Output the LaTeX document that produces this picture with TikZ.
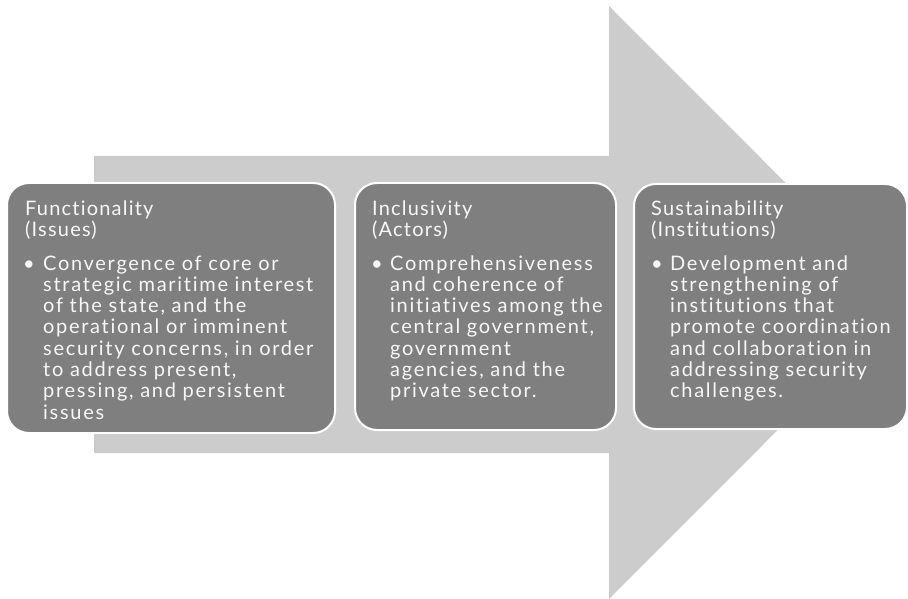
\documentclass[tikz,border=0pt]{standalone}
\usepackage{fontspec}
\setmainfont{Lato}[LetterSpace=6,WordSpace=1.3,Ligatures={NoCommon}]
\newfontfamily\bodyfont{Lato}[LetterSpace=8.5,WordSpace=1.35,Ligatures={NoCommon}]
\definecolor{shaftgray}{HTML}{CCCCCC}
\definecolor{boxgray}{HTML}{7F7F7F}
\definecolor{labelwhite}{HTML}{F7F7F7}
\begin{document}
\begin{tikzpicture}[x=1pt,y=-1pt,
  panel/.style={draw=white,line width=2pt,fill=boxgray,rounded corners=22pt},
  heading/.style={anchor=base west,inner sep=0pt,text=labelwhite,text width=260pt,align=left,
    font=\fontsize{20pt}{21.5pt}\selectfont},
  body/.style={anchor=base west,inner sep=0pt,text=labelwhite,text width=300pt,align=left,
    font=\bodyfont\fontsize{20pt}{21.3pt}\selectfont},
  dot/.style={anchor=base west,inner sep=0pt,text=labelwhite,font=\fontsize{20pt}{21.3pt}\selectfont}]
\useasboundingbox (0,0) rectangle (908,599);
% background arrow
\fill[shaftgray] (94,156) -- (609,156) -- (609,6) -- (905,302.5) -- (609,599) -- (609,453) -- (94,453) -- cycle;
% three panels
\draw[panel] (7,183) rectangle (335,433);
\draw[panel] (355,183) rectangle (616,430);
\draw[panel] (634,184) rectangle (907,429);
% panel 1
\node[heading] (h1) at (25,215) {Functionality\\(Issues)};
\node[dot] (d1) at (23,270) {\textbullet};
\node[body] (t1) at (43,270) {Convergence of core or\\strategic maritime interest\\of the state, and the\\operational or imminent\\security concerns, in order\\to address present,\\pressing, and persistent\\issues};
% panel 2
\node[heading] (h2) at (372,215) {Inclusivity\\(Actors)};
\node[dot] (d2) at (371,270) {\textbullet};
\node[body] (t2) at (390,270) {Comprehensiveness\\and coherence of\\initiatives among the\\central government,\\government\\agencies, and the\\private sector.};
% panel 3
\node[heading] (h3) at (651,215) {Sustainability\\(Institutions)};
\node[dot] (d3) at (651,270) {\textbullet};
\node[body] (t3) at (670,270) {Development and\\strengthening of\\institutions that\\promote coordination\\and collaboration in\\addressing security\\challenges.};
\end{tikzpicture}
\end{document}
